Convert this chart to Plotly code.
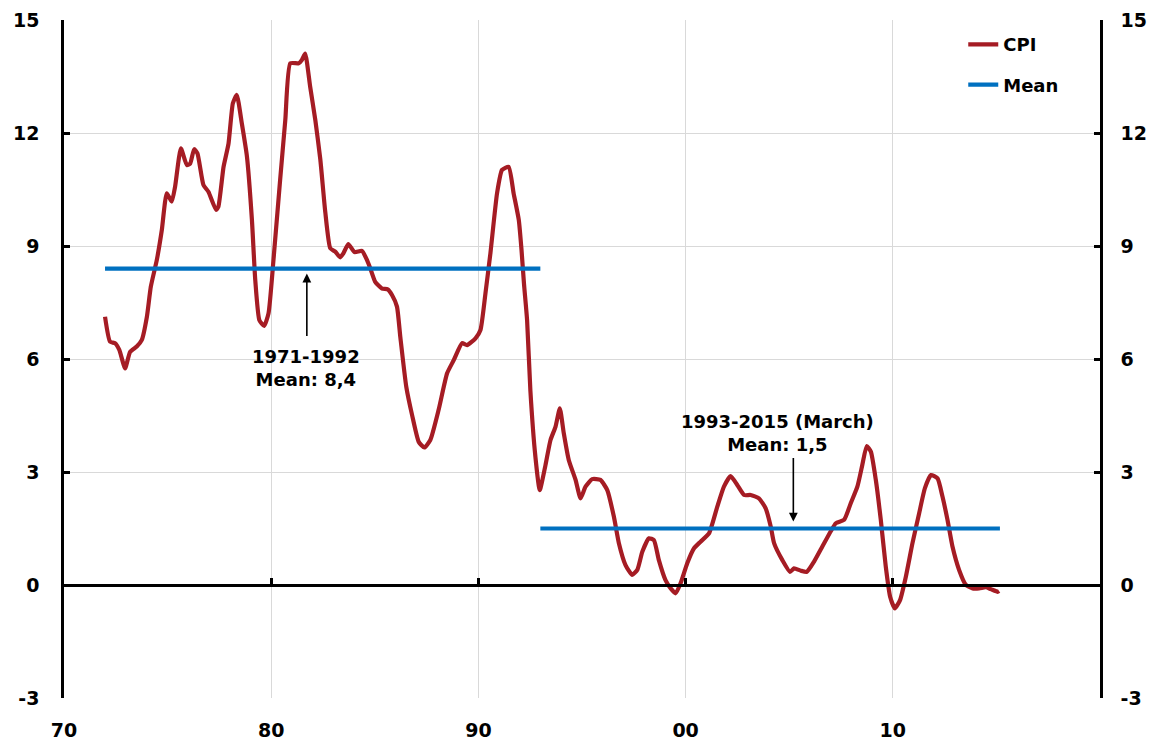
import plotly.graph_objects as go

# ---- data ----
cpi_year = [1971.98, 1972.22, 1972.46, 1972.67, 1972.95, 1973.19, 1973.51, 1973.75, 1974.00, 1974.19,
            1974.48, 1974.72, 1974.96, 1975.20, 1975.36, 1975.64, 1975.93, 1976.09, 1976.28, 1976.44,
            1976.73, 1976.97, 1977.34, 1977.45, 1977.70, 1977.94, 1978.15, 1978.34, 1978.58, 1978.83,
            1979.07, 1979.23, 1979.43, 1979.66, 1979.87, 1980.11, 1980.43, 1980.68, 1980.92, 1981.32,
            1981.48, 1981.64, 1981.88, 1982.13, 1982.37, 1982.61, 1982.85, 1983.09, 1983.33, 1983.49,
            1983.72, 1984.02, 1984.38, 1984.62, 1984.78, 1985.02, 1985.35, 1985.62, 1985.83, 1986.07,
            1986.23, 1986.52, 1986.80, 1987.12, 1987.39, 1987.68, 1988.08, 1988.49, 1988.81, 1989.21,
            1989.45, 1989.86, 1990.10, 1990.34, 1990.58, 1990.90, 1991.14, 1991.46, 1991.70, 1991.95,
            1992.08, 1992.20, 1992.35, 1992.51, 1992.75, 1992.96, 1993.24, 1993.48, 1993.72, 1993.93,
            1994.12, 1994.36, 1994.69, 1994.93, 1995.17, 1995.49, 1995.89, 1996.22, 1996.54, 1996.78,
            1997.10, 1997.42, 1997.67, 1997.91, 1998.23, 1998.47, 1998.71, 1999.03, 1999.28, 1999.52,
            1999.76, 2000.08, 2000.40, 2000.72, 2001.13, 2001.53, 2001.85, 2002.17, 2002.50, 2002.82,
            2003.14, 2003.54, 2003.86, 2004.11, 2004.27, 2004.67, 2005.04, 2005.23, 2005.56, 2005.85,
            2006.20, 2006.60, 2007.00, 2007.25, 2007.65, 2007.97, 2008.29, 2008.53, 2008.74, 2008.94,
            2009.18, 2009.42, 2009.66, 2009.87, 2010.10, 2010.35, 2010.63, 2010.95, 2011.27, 2011.55,
            2011.84, 2012.16, 2012.40, 2012.64, 2012.88, 2013.20, 2013.53, 2013.85, 2014.17, 2014.49,
            2014.73, 2015.06, 2015.13]
cpi_value = [7.12, 6.46, 6.42, 6.24, 5.75, 6.19, 6.33, 6.50, 7.12, 7.92,
             8.63, 9.42, 10.40, 10.18, 10.57, 11.59, 11.15, 11.19, 11.57, 11.46,
             10.62, 10.44, 9.96, 10.04, 11.10, 11.72, 12.79, 13.01, 12.26, 11.37,
             9.69, 8.10, 7.03, 6.88, 7.21, 8.63, 10.75, 12.34, 13.85, 13.85,
             13.94, 14.11, 13.23, 12.34, 11.30, 9.90, 8.94, 8.85, 8.70, 8.81,
             9.05, 8.84, 8.87, 8.63, 8.41, 8.05, 7.87, 7.85, 7.70, 7.39,
             6.59, 5.26, 4.51, 3.80, 3.65, 3.85, 4.65, 5.62, 5.97, 6.42,
             6.37, 6.55, 6.77, 7.74, 8.81, 10.40, 11.02, 11.10, 10.40, 9.69,
             8.90, 8.00, 7.03, 5.15, 3.41, 2.52, 3.19, 3.85, 4.20, 4.69,
             4.03, 3.32, 2.79, 2.30, 2.61, 2.81, 2.79, 2.52, 1.81, 1.11,
             0.53, 0.27, 0.40, 0.88, 1.24, 1.19, 0.66, 0.13, -0.09, -0.22,
             0.05, 0.58, 0.97, 1.15, 1.37, 2.08, 2.61, 2.89, 2.65, 2.39,
             2.39, 2.30, 2.04, 1.55, 1.11, 0.66, 0.35, 0.44, 0.38, 0.35,
             0.62, 1.02, 1.42, 1.64, 1.73, 2.17, 2.61, 3.19, 3.69, 3.54,
             2.79, 1.73, 0.49, -0.31, -0.62, -0.40, 0.22, 1.11, 1.90, 2.57,
             2.92, 2.83, 2.34, 1.73, 1.02, 0.40, 0.00, -0.09, -0.09, -0.06,
             -0.11, -0.18, -0.16]

mean_start = [1971.98, 1992.99]
mean_end = [1992.99, 2015.17]
mean_value = [8.4, 1.5]
mean_labels = ["1971-1992<br>Mean: 8,4", "1993-2015 (March)<br>Mean: 1,5"]

x_tickvals = [1970, 1980, 1990, 2000, 2010]
x_ticktext = ["70", "80", "90", "00", "10"]
y_tickvals = [-3, 0, 3, 6, 9, 12, 15]
y_ticktext = ["-3", "0", "3", "6", "9", "12", "15"]

# ---- styling ----
FONT = "DejaVu Sans"
RED = "#A51C24"
BLUE = "#0070C0"
GRID = "#D9D9D9"

mean_x, mean_y = [], []
for s, e, v in zip(mean_start, mean_end, mean_value):
    mean_x += [s, e, None]
    mean_y += [v, v, None]

fig = go.Figure()
fig.add_trace(go.Scatter(x=cpi_year, y=cpi_value, mode="lines", name="CPI",
                         line=dict(color=RED, width=4.2, shape="spline", smoothing=0.5),
                         legendgroup="a"))
fig.add_trace(go.Scatter(x=mean_x, y=mean_y, mode="lines", name="Mean",
                         line=dict(color=BLUE, width=4.2), legendgroup="b",
                         xaxis="x2", yaxis="y2"))

tickfont = dict(family=FONT, size=19, color="#000", weight="bold")

fig.update_layout(
    width=1161, height=744,
    margin=dict(l=64, r=61, t=20, b=46, autoexpand=False),
    plot_bgcolor="white", paper_bgcolor="white",
    font=dict(family=FONT, size=18, color="#000", weight="bold"),
    xaxis=dict(range=[1970, 2020], tickvals=x_tickvals, ticktext=x_ticktext,
               showgrid=True, gridcolor=GRID, gridwidth=1, showline=False,
               zeroline=False, ticks="", tickfont=tickfont, ticklabelstandoff=19,
               automargin=False),
    xaxis2=dict(range=[1970, 2020], matches="x", overlaying="x", anchor="free",
                position=1 / 6, side="bottom", showgrid=False, zeroline=False,
                showline=True, linecolor="black", linewidth=2.5,
                ticks="inside", ticklen=6, tickwidth=2.5, tickcolor="black",
                tickvals=x_tickvals[1:], showticklabels=False, automargin=False),
    yaxis=dict(range=[-3, 15], tickvals=y_tickvals, ticktext=y_ticktext,
               showgrid=True, gridcolor=GRID,
               gridwidth=1, zeroline=False, showline=True, linecolor="black",
               linewidth=2.5, ticks="inside", ticklen=6, tickwidth=2.5,
               tickcolor="black", tickfont=tickfont, ticklabelstandoff=18,
               automargin=False),
    yaxis2=dict(range=[-3, 15], matches="y", overlaying="y", side="right",
                anchor="x", tickvals=y_tickvals, ticktext=y_ticktext,
                showgrid=False, zeroline=False,
                showline=True, linecolor="black", linewidth=2.5, ticks="inside",
                ticklen=6, tickwidth=2.5, tickcolor="black", tickfont=tickfont,
                ticklabelstandoff=14, automargin=False),
    legend=dict(x=0.868, y=0.991, xanchor="left", yanchor="top",
                bgcolor="rgba(0,0,0,0)", traceorder="grouped", tracegroupgap=14,
                font=dict(family=FONT, size=18, color="#000", weight="bold"),
                itemwidth=30),
    showlegend=True,
)

annfont = dict(family=FONT, size=18, color="#000", weight="bold")
# text blocks
fig.add_annotation(x=1981.69, y=5.77, text=mean_labels[0], showarrow=False,
                   font=annfont, align="center")
fig.add_annotation(x=2004.44, y=4.04, text=mean_labels[1], showarrow=False,
                   font=annfont, align="center")
# arrows pointing at the mean lines
fig.add_annotation(x=1981.72, y=mean_value[0], yshift=-5, text="", showarrow=True,
                   ax=0, ay=64, arrowhead=2, arrowsize=1.1, arrowwidth=1.6,
                   arrowcolor="black")
fig.add_annotation(x=2005.2, y=mean_value[1], yshift=7, text="", showarrow=True,
                   ax=0, ay=-65, arrowhead=2, arrowsize=1.1, arrowwidth=1.6,
                   arrowcolor="black")

fig.write_html("out.html", config={"displayModeBar": False},
               post_script="document.body.style.margin='0';document.body.style.padding='0';")
